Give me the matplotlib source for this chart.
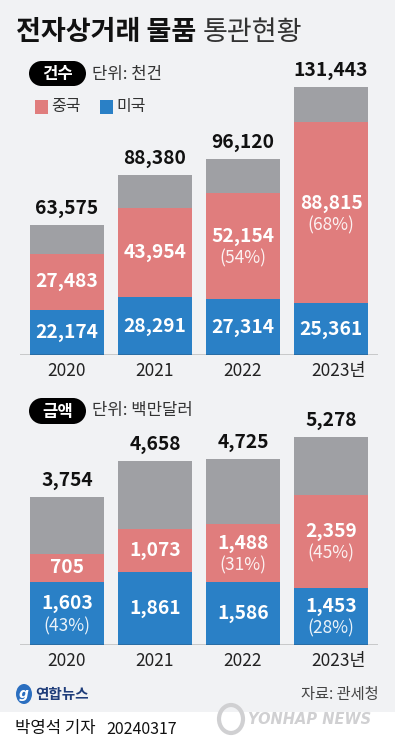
import matplotlib
matplotlib.use("Agg")
import matplotlib.pyplot as plt
from matplotlib.patches import Rectangle, Ellipse

plt.rcParams['font.family'] = ['Noto Sans CJK KR', 'DejaVu Sans']

years = ["2020", "2021", "2022", "2023년"]
count_total = [63575, 88380, 96120, 131443]
count_china = [27483, 43954, 52154, 88815]
count_us = [22174, 28291, 27314, 25361]
count_china_pct = [None, None, "(54%)", "(68%)"]
count_us_pct = [None, None, None, None]

amount_total = [3754, 4658, 4725, 5278]
amount_china = [705, 1073, 1488, 2359]
amount_us = [1603, 1861, 1586, 1453]
amount_china_pct = [None, None, "(31%)", "(45%)"]
amount_us_pct = ["(43%)", None, None, "(28%)"]

GRAY = "#9fa0a4"
RED = "#e07d7d"
BLUE = "#2a80c6"
BG = "#f1f2f4"

W, H = 395, 750
fig = plt.figure(figsize=(W / 100, H / 100), dpi=100)
fig.patch.set_facecolor("white")

# overlay axes in pixel coordinates (for decorations)
ov = fig.add_axes([0, 0, 1, 1])
ov.set_xlim(0, W)
ov.set_ylim(H, 0)
ov.axis("off")
ov.set_zorder(-5)

ov.add_patch(Rectangle((0, 0), W, 712, facecolor=BG, edgecolor="none", zorder=0))

VAL_FS = 13.8
PCT_FS = 12.5


def fmt(v):
    return f"{v:,}"


def panel(top_px, base_px, ymax, total, china, us, china_pct, us_pct):
    ax = fig.add_axes([20 / W, 1 - base_px / H, (378 - 20) / W, (base_px - top_px) / H])
    ax.set_facecolor("none")
    ax.set_xlim(-0.534, 3.534)
    ax.set_ylim(0, ymax)
    xs = list(range(len(total)))
    w = 0.84
    ax.bar(xs, total, width=w, color=GRAY, zorder=1)
    ax.bar(xs, [c + u for c, u in zip(china, us)], width=w, color=RED, zorder=2)
    ax.bar(xs, us, width=w, color=BLUE, zorder=3)
    ax.axhline(0, color="#222222", lw=1.0, zorder=5)
    for s in ax.spines.values():
        s.set_visible(False)
    ax.set_xticks([])
    ax.set_yticks([])
    for i in xs:
        ax.annotate(fmt(total[i]), (i, total[i]), xytext=(0, 5), textcoords="offset points",
                    ha="center", va="bottom", fontsize=VAL_FS, fontweight="bold", color="#111111")
        cmid = us[i] + china[i] / 2
        if china_pct[i]:
            ax.annotate(fmt(china[i]), (i, cmid), xytext=(0, 7), textcoords="offset points",
                        ha="center", va="center", fontsize=VAL_FS, fontweight="bold", color="white", zorder=6)
            ax.annotate(china_pct[i], (i, cmid), xytext=(0, -9), textcoords="offset points",
                        ha="center", va="center", fontsize=PCT_FS, color="white", alpha=0.9, zorder=6)
        else:
            ax.text(i, cmid, fmt(china[i]), ha="center", va="center", fontsize=VAL_FS,
                    fontweight="bold", color="white", zorder=6)
        umid = us[i] / 2
        if us_pct[i]:
            ax.annotate(fmt(us[i]), (i, umid), xytext=(0, 7), textcoords="offset points",
                        ha="center", va="center", fontsize=VAL_FS, fontweight="bold", color="white", zorder=6)
            ax.annotate(us_pct[i], (i, umid), xytext=(0, -9), textcoords="offset points",
                        ha="center", va="center", fontsize=PCT_FS, color="white", alpha=0.9, zorder=6)
        else:
            ax.text(i, umid, fmt(us[i]), ha="center", va="center", fontsize=VAL_FS,
                    fontweight="bold", color="white", zorder=6)
        label = years[i]
        xoff = 0.09 if label.endswith("년") else 0
        ax.annotate(label, (i + xoff, 0), xytext=(0, -5), textcoords="offset points",
                    ha="center", va="top", fontsize=12.5, color="#222222", annotation_clip=False)
    return ax


# top panel: baseline 355, 131443 -> 268 px
panel(60, 355, 295 / 268 * 131443, count_total, count_china, count_us, count_china_pct, count_us_pct)
# bottom panel: baseline 645, 5278 -> 208 px
panel(410, 645, 235 / 208 * 5278, amount_total, amount_china, amount_us, amount_china_pct, amount_us_pct)

# title
ov.text(16, 32, "전자상거래 물품", fontsize=19.5, fontweight="bold", color="#111111",
        ha="left", va="center")
ov.text(203, 32, "통관현황", fontsize=19.5, color="#333333", ha="left", va="center")


def badge(x0, y0, x1, y1, label):
    h = y1 - y0
    r = h / 2
    ov.add_patch(Rectangle((x0 + r, y0), (x1 - x0) - 2 * r, h, facecolor="black", edgecolor="none", zorder=2))
    ov.add_patch(Ellipse((x0 + r, y0 + r), h, h, facecolor="black", edgecolor="none", zorder=2))
    ov.add_patch(Ellipse((x1 - r, y0 + r), h, h, facecolor="black", edgecolor="none", zorder=2))
    ov.text((x0 + x1) / 2, (y0 + y1) / 2 + 0.5, label, fontsize=12, fontweight="bold",
            color="white", ha="center", va="center", zorder=3)


badge(29, 61, 86, 86, "건수")
ov.text(92, 74, "단위: 천건", fontsize=12, color="#333333", ha="left", va="center")
badge(29, 398, 86, 424, "금액")
ov.text(92, 411, "단위: 백만달러", fontsize=12, color="#333333", ha="left", va="center")

# legend
ov.add_patch(Rectangle((35, 100), 13, 14, facecolor=RED, edgecolor="none", zorder=2))
ov.text(51, 107, "중국", fontsize=11.5, color="#333333", ha="left", va="center")
ov.add_patch(Rectangle((100, 100), 13, 14, facecolor=BLUE, edgecolor="none", zorder=2))
ov.text(116, 107, "미국", fontsize=11.5, color="#333333", ha="left", va="center")

# footer
ov.add_patch(Ellipse((24, 694), 16, 20, facecolor="#2b6fc0", edgecolor="none", zorder=2))
ov.text(24, 694, "g", fontsize=10, fontweight="bold", style="italic", color="white",
        ha="center", va="center", family=["DejaVu Sans"], zorder=3)
ov.text(35, 694, "연합뉴스", fontsize=10.5, fontweight="bold", color="#1f3d7a",
        ha="left", va="center")
ov.text(379, 694, "자료: 관세청", fontsize=11, color="#444444", ha="right", va="center")
ov.text(15, 729, "박영석 기자", fontsize=12, color="#111111", ha="left", va="center")
ov.text(106, 730, "20240317", fontsize=11.5, color="#111111", ha="left", va="center")
ov.add_patch(Ellipse((231, 719), 24, 28, facecolor="none", edgecolor="#d0d0d2", lw=3, zorder=1))
ov.text(248, 720, "YONHAP NEWS", fontsize=10.5, fontweight="bold", style="italic",
        color="#d0d0d2", ha="left", va="center", family=["DejaVu Sans"])

fig.savefig("out.png", dpi=100, facecolor=fig.get_facecolor())
